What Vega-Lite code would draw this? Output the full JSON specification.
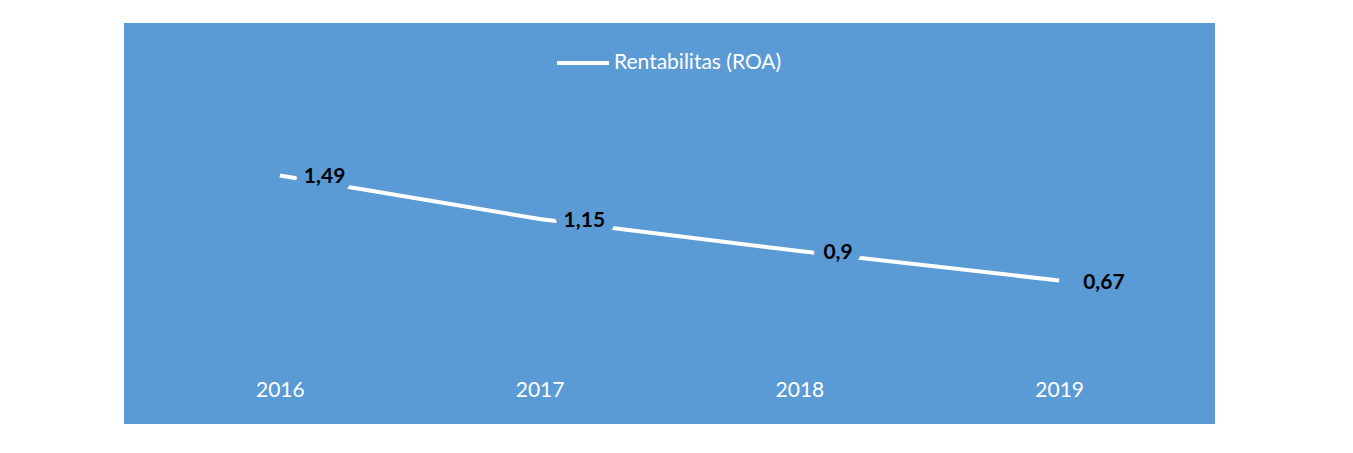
{
  "$schema": "https://vega.github.io/schema/vega-lite/v6.json",
  "width": 1091,
  "height": 401,
  "autosize": "none",
  "padding": {"left": 124, "top": 23, "right": 0, "bottom": 0},
  "background": "white",
  "config": {"view": {"fill": "#5B9BD5", "stroke": null}, "font": "Lato"},
  "data": {"values": [
    {"tahun": "2016", "roa": 1.49, "label": "1,49"},
    {"tahun": "2017", "roa": 1.15, "label": "1,15"},
    {"tahun": "2018", "roa": 0.9, "label": "0,9"},
    {"tahun": "2019", "roa": 0.67, "label": "0,67"}
  ]},
  "encoding": {
    "x": {"field": "tahun", "type": "ordinal", "scale": {"type": "point", "padding": 0.6},
      "axis": {"orient": "bottom", "title": null, "domain": false, "ticks": false, "grid": false, "labelAngle": 0,
        "offset": -45, "labelPadding": 0, "labelBaseline": "top", "labelColor": "white", "labelFontSize": 21, "labelFont": "Lato"}},
    "y": {"field": "roa", "type": "quantitative", "scale": {"domain": [-0.45, 2.68]}, "axis": null}
  },
  "layer": [
    {"mark": {"type": "line", "strokeWidth": 4},
      "encoding": {"color": {"datum": "Rentabilitas (ROA)", "scale": {"range": ["white"]},
        "legend": {"orient": "none", "legendX": 431, "legendY": 12, "title": null, "padding": 0,
          "symbolType": "stroke", "symbolSize": 2704, "symbolStrokeWidth": 4, "symbolStrokeColor": "white",
          "labelColor": "white", "labelFontSize": 21, "labelFont": "Lato", "labelOffset": 3, "labelLimit": 400}}}},
    {"mark": {"type": "text", "align": "left", "dx": 24, "dy": 2, "fill": "#5B9BD5", "stroke": "#5B9BD5", "strokeWidth": 20, "strokeJoin": "round", "fontWeight": "bold", "fontSize": 21},
      "encoding": {"text": {"field": "label"}}},
    {"mark": {"type": "text", "align": "left", "dx": 24, "dy": 2, "fill": "black", "fontWeight": "bold", "fontSize": 21},
      "encoding": {"text": {"field": "label"}}}
  ]
}
